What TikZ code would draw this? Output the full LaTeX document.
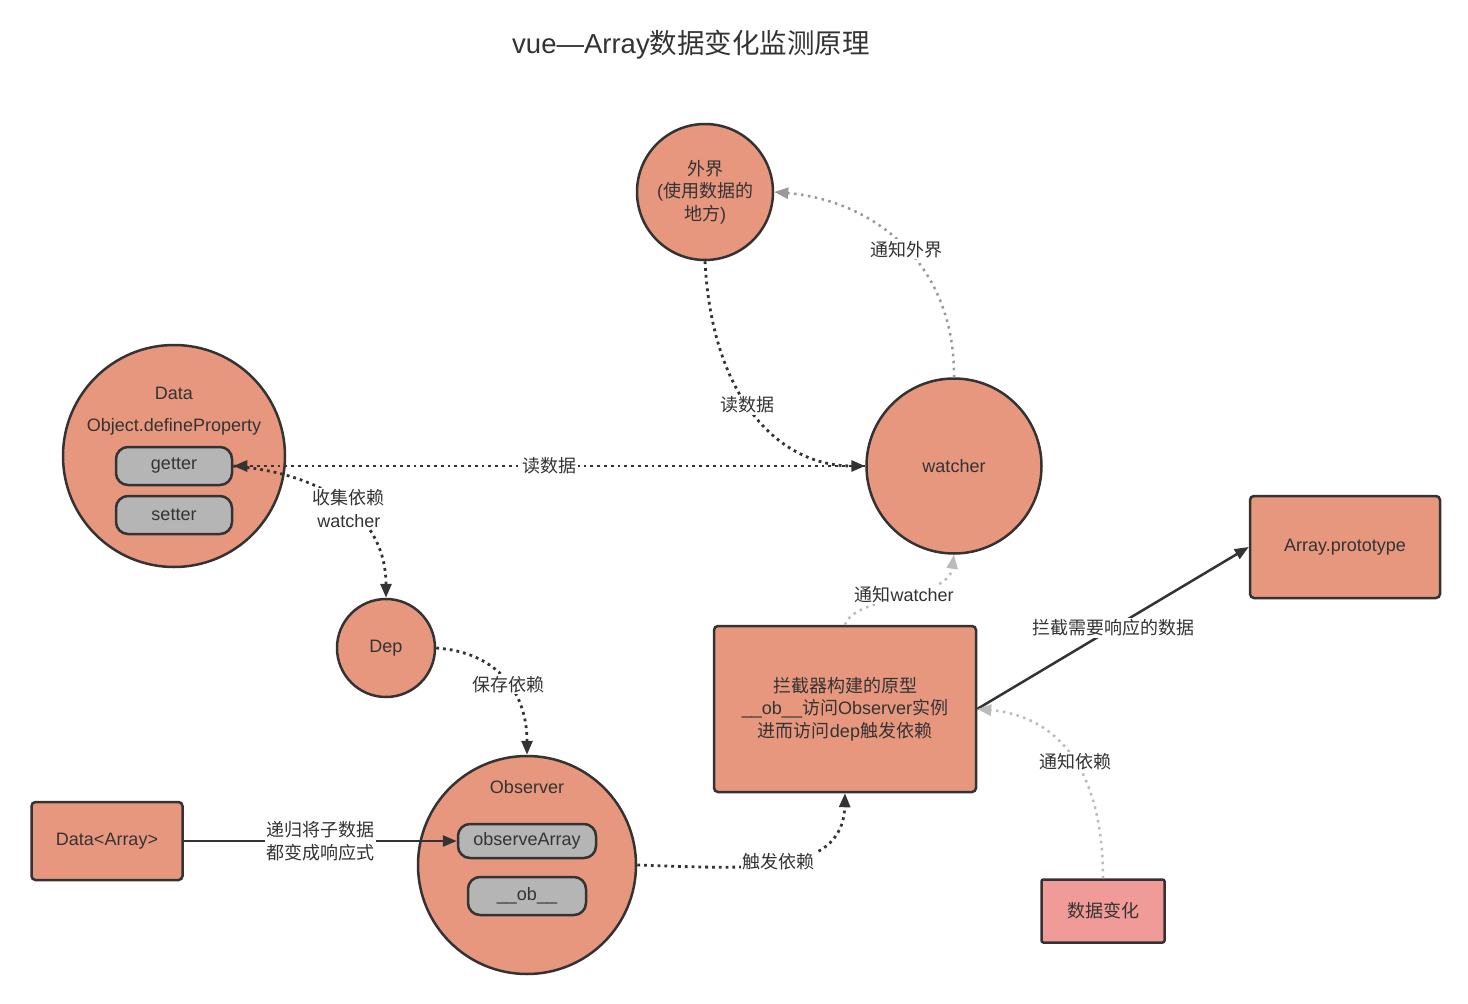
\documentclass[tikz,border=0pt]{standalone}
\usepackage{fontspec}
\setmainfont{Liberation Sans}
\newfontfamily\cjk{Noto Sans CJK SC}
\usetikzlibrary{arrows.meta}
\definecolor{salmon}{HTML}{E8977F}
\definecolor{pinkbox}{HTML}{F09B98}
\definecolor{pillgrey}{HTML}{B5B5B5}
\definecolor{ink}{HTML}{333333}
\definecolor{gdot}{HTML}{999999}
\definecolor{ldot}{HTML}{BBBBBB}
\begin{document}
\begin{tikzpicture}[x=1pt,y=-1pt,
  font=\fontsize{18}{22.5}\selectfont, text=ink,
  circ/.style={circle, draw=ink, line width=2.5pt, fill=salmon, inner sep=0pt, minimum size=#1, align=center},
  boxst/.style={rectangle, rounded corners=4pt, draw=ink, line width=2.5pt, fill=salmon, align=center},
  pillst/.style={rectangle, rounded corners=12pt, draw=ink, line width=2.5pt, fill=pillgrey},
  lbl/.style={fill=white, inner sep=1.5pt, align=center, text=ink},
  tip/.style={-{Triangle[length=14pt,width=11pt]}},
  darkdot/.style={draw=ink, line width=2.8pt, dash pattern=on 2.8pt off 4pt, tip},
  greydot/.style={draw=gdot, line width=2.5pt, dash pattern=on 2.5pt off 4.5pt, tip},
  lightdot/.style={draw=ldot, line width=2.5pt, dash pattern=on 2.5pt off 4.5pt, tip},
  solidarrow/.style={draw=ink, line width=2.5pt, tip}]
\fill[white] (0,0) rectangle (1468,1004);
\useasboundingbox (0,0) rectangle (1468,1004);

\node[font=\fontsize{27.5}{32}\selectfont] (title) at (691,45) {vue—Array{\cjk 数据变化监测原理}};

% circles
\node[circ=136] (outer) at (705,192) {{\cjk 外界}\\({\cjk 使用数据的}\\{\cjk 地方})};
\node[circ=175] (watcher) at (954,466) {watcher};
\node[circ=222] (data) at (174,456) {};
\node (datat) at (174,393) {Data};
\node (odp) at (174,427) {Object.defineProperty};
\node[pillst, minimum width=116pt, minimum height=38pt] (getter) at (174,466) {getter};
\node[pillst, minimum width=116pt, minimum height=38pt] (setter) at (174,515) {setter};
\node[circ=98] (dep) at (386,648) {Dep};
\node[circ=218] (obs) at (527,865) {};
\node (obst) at (527,787) {Observer};
\node[pillst, minimum width=138pt, minimum height=34pt] (oarr) at (527,841) {observeArray};
\node[pillst, minimum width=118pt, minimum height=38pt] (ob) at (527,896) {\_\_ob\_\_};

% boxes
\node[boxst, minimum width=151pt, minimum height=78pt] (darr) at (107,841) {Data<Array>};
\node[boxst, minimum width=262pt, minimum height=166pt] (mid) at (845,709)
  {{\cjk 拦截器构建的原型}\\\_\_ob\_\_{\cjk 访问}Observer{\cjk 实例}\\{\cjk 进而访问}dep{\cjk 触发依赖}};
\node[boxst, minimum width=190pt, minimum height=102pt] (proto) at (1345,547) {Array.prototype};
\node[boxst, rounded corners=2pt, fill=pinkbox, minimum width=123pt, minimum height=63pt] (change) at (1103,911) {\cjk 数据变化};

% connectors
\draw[darkdot] (outer.south) .. controls (712,400) and (780,466) .. (watcher.west)
  node[lbl, pos=0.45] {\cjk 读数据};
\draw[greydot] (watcher.north) .. controls (955,260) and (870,200) .. (outer.east)
  node[lbl, pos=0.47] {\cjk 通知外界};
\draw[darkdot] (watcher.west) -- (getter.east) node[lbl, midway] {\cjk 读数据};
\draw[darkdot] (getter.east) .. controls (330,474) and (386,520) .. (dep.north)
  node[lbl, pos=0.52] {{\cjk 收集依赖}\\watcher};
\draw[darkdot] (dep.east) .. controls (495,652) and (527,690) .. (obs.north)
  node[lbl, pos=0.55] {\cjk 保存依赖};
\draw[solidarrow] (darr.east) -- (oarr.west) node[lbl, pos=0.5] {{\cjk 递归将子数据}\\{\cjk 都变成响应式}};
\draw[darkdot] (obs.east) .. controls (740,868) and (843,878) .. (mid.south)
  node[lbl, pos=0.5] {\cjk 触发依赖};
\draw[lightdot] (mid.north) .. controls (855,595) and (948,600) .. (watcher.south)
  node[lbl, pos=0.52] {{\cjk 通知}watcher};
\draw[solidarrow] (mid.east) -- (proto.west) node[lbl, pos=0.5] {\cjk 拦截需要响应的数据};
\draw[lightdot] (change.north) .. controls (1103,760) and (1050,715) .. (mid.east)
  node[lbl, pos=0.44] {\cjk 通知依赖};
\end{tikzpicture}
\end{document}
